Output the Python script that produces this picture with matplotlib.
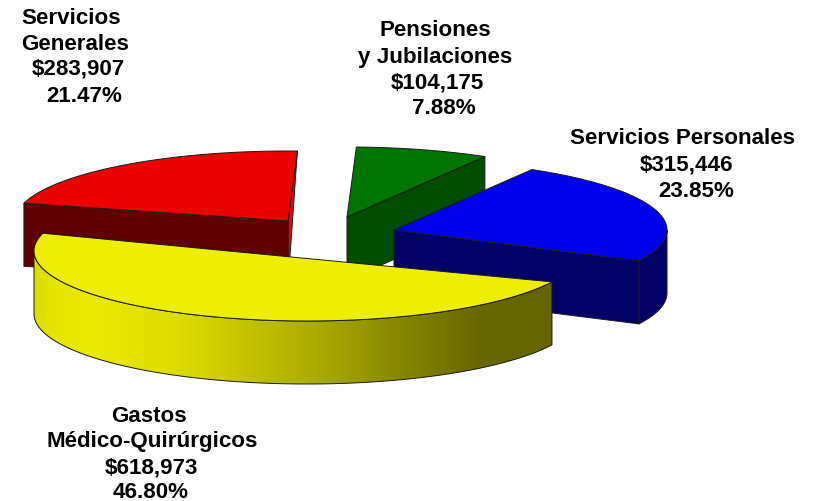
import matplotlib
matplotlib.use("Agg")
import matplotlib.pyplot as plt
import numpy as np
from matplotlib.colors import LinearSegmentedColormap
from matplotlib.patches import Polygon

plt.rcParams['font.family'] = ['Liberation Sans', 'DejaVu Sans']

# Data, going clockwise from the lower right
names = ['Servicios Personales', 'Pensiones y Jubilaciones', 'Servicios Generales', 'Gastos Médico-Quirúrgicos']
amounts = [315446, 104175, 283907, 618973]
percents = ['23.85%', '7.88%', '21.47%', '46.80%']

# Label lines per slice
label_lines = [
    ['Servicios Personales', '$' + format(amounts[0], ','), percents[0]],
    ['Pensiones', 'y Jubilaciones', '$' + format(amounts[1], ','), percents[1]],
    ['Servicios', 'Generales', '$' + format(amounts[2], ','), percents[2]],
    ['Gastos', 'Médico-Quirúrgicos', '$' + format(amounts[3], ','), percents[3]],
]
label_x = [[683, 686, 696], [435, 435, 437, 444], [71, 75, 78, 84], [149, 152, 151, 151]]
label_y = [[139, 165, 192], [31, 57, 83, 109], [19, 44, 69, 96], [417, 442, 468, 493]]

# Slice styles
top_colors = ['#0000ee', '#007400', '#ee0000', '#eeee00']
side_colors = ['#000066', '#004d00', '#5e0000', None]
centers = [(394, 231), (347, 218), (288, 222), (307, 252)]

# Pie shape in pixels
start_angle = -26.2
rx, ry = 273, 70
depth = 63


def rim(center, t0, t1):
    t = np.radians(np.linspace(t0, t1, 120))
    return center[0] + rx * np.cos(t), center[1] - ry * np.sin(t)


def draw_poly(ax, x, y, color, z, lw=0.7):
    p = Polygon(np.column_stack([x, y]), closed=True, facecolor=color, edgecolor='#1a1a1a',
                linewidth=lw, joinstyle='round', zorder=z)
    ax.add_patch(p)
    return p


fig = plt.figure(figsize=(8.18, 5.02), dpi=100)
ax = fig.add_axes([0, 0, 1, 1])
ax.set_xlim(0, 818)
ax.set_ylim(502, 0)
ax.axis('off')

shares = np.array(amounts) / sum(amounts) * 360
edges = start_angle + np.concatenate([[0], np.cumsum(shares)])

yellow_map = LinearSegmentedColormap.from_list('side', [
    (0.00, '#dcdc00'), (0.03, '#e4e400'), (0.11, '#ebeb00'), (0.28, '#dcdc00'),
    (0.42, '#c2c200'), (0.58, '#a4a400'), (0.72, '#848400'), (0.86, '#686800'), (1.00, '#646400')])

for i in range(4):
    c = centers[i]
    z = 10 * (i + 1) if i != 0 else 25
    t0, t1 = edges[i], edges[i + 1]
    rx_pts, ry_pts = rim(c, t0, t1)
    if i == 3:
        # yellow top has a straight front edge, no corner at the centre
        top_x, top_y = rx_pts, ry_pts
    else:
        top_x = np.concatenate([[c[0]], rx_pts])
        top_y = np.concatenate([[c[1]], ry_pts])

    if i == 0:
        draw_poly(ax, [c[0], rx_pts[0], rx_pts[0], c[0]],
                  [c[1], ry_pts[0], ry_pts[0] + depth, c[1] + depth], side_colors[i], z)
        sx, sy = rim(c, t0, 0)
        draw_poly(ax, np.concatenate([sx, sx[::-1]]), np.concatenate([sy, sy[::-1] + depth]),
                  side_colors[i], z)
    elif i == 1:
        draw_poly(ax, [c[0], rx_pts[0], rx_pts[0], c[0]],
                  [c[1], ry_pts[0], ry_pts[0] + depth, c[1] + depth], side_colors[i], z)
    elif i == 2:
        # lit right hand cut of the red slice
        draw_poly(ax, [c[0], rx_pts[0], c[0]],
                  [c[1], ry_pts[0], c[1] + depth], top_colors[i], z)
        draw_poly(ax, [c[0], rx_pts[-1], rx_pts[-1], c[0]],
                  [c[1], ry_pts[-1], ry_pts[-1] + depth, c[1] + depth], side_colors[i], z)
    else:
        sx, sy = rim(c, 180, t1)
        draw_poly(ax, np.concatenate([sx, sx[::-1]]), np.concatenate([sy, sy[::-1] + depth]),
                  'none', z + 1)
        clip = Polygon(np.column_stack([np.concatenate([sx, sx[::-1]]),
                                        np.concatenate([sy, sy[::-1] + depth])]),
                       closed=True, transform=ax.transData)
        im = ax.imshow(np.linspace(0, 1, 256).reshape(1, -1), cmap=yellow_map, aspect='auto',
                       extent=(sx.min(), sx.max(), sy.max() + depth, sy.min()), zorder=z,
                       interpolation='bilinear')
        im.set_clip_path(clip)

    draw_poly(ax, top_x, top_y, top_colors[i], z + 2)

ax.set_xlim(0, 818)
ax.set_ylim(502, 0)

for lines, xs, ys in zip(label_lines, label_x, label_y):
    for s, x, y in zip(lines, xs, ys):
        ax.text(x, y, s, ha='center', va='center', fontsize=16.1, fontweight='bold',
                color='black', zorder=60)

fig.savefig('out.png', dpi=100, facecolor='white')
